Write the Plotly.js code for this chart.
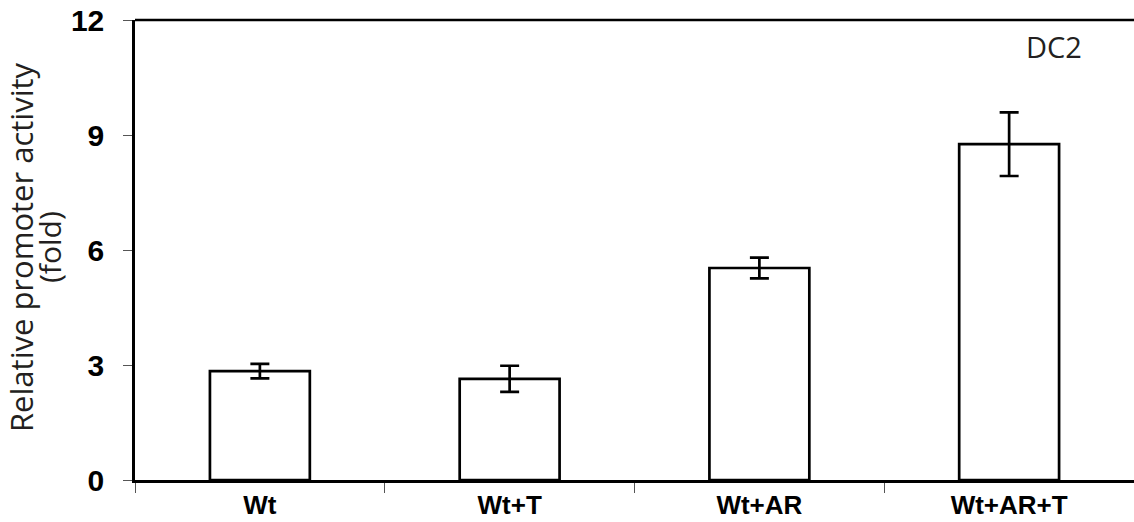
<!DOCTYPE html>
<html>
<head>
<meta charset="utf-8">
<script src="https://cdn.plot.ly/plotly-3.0.1.min.js"></script>
<style>html,body{margin:0;padding:0;background:#fff;}#chart{width:1134px;height:522px;}</style>
</head>
<body>
<div id="chart"></div>
<script>
const categories = ["Wt", "Wt+T", "Wt+AR", "Wt+AR+T"];
const activity = [2.84, 2.64, 5.53, 8.76];
const errors = [0.19, 0.34, 0.27, 0.83];
const yTicks = [0, 3, 6, 9, 12];
const panelLabel = "DC2";
const yTitleLine1 = "Relative promoter activity";
const yTitleLine2 = "(fold)";

const trace = {
  type: "bar",
  x: categories,
  y: activity,
  width: 0.4,
  marker: {color: "#ffffff", line: {color: "#000000", width: 2.7}},
  error_y: {type: "data", array: errors, visible: true, color: "#000000", thickness: 2.7, width: 9.5},
  hoverinfo: "none"
};

const layout = {
  width: 1134,
  height: 522,
  margin: {l: 135, r: 0, t: 20, b: 42, pad: 0},
  paper_bgcolor: "#ffffff",
  plot_bgcolor: "#ffffff",
  showlegend: false,
  bargap: 0.6,
  xaxis: {
    type: "category",
    range: [-0.5, 3.5],
    showline: true, linecolor: "#000000", linewidth: 2.7,
    showgrid: false, zeroline: false,
    ticks: "outside", tickson: "boundaries", ticklen: 10, tickwidth: 1, tickcolor: "#555555",
    tickfont: {family: "Liberation Sans, Arial, sans-serif", size: 26, color: "#000000", weight: "bold"},
    ticklabelstandoff: 0,
    fixedrange: true
  },
  yaxis: {
    range: [0, 12],
    tickvals: yTicks,
    ticktext: yTicks.map(String),
    showline: true, linecolor: "#000000", linewidth: 2.7,
    showgrid: false, zeroline: false,
    ticks: "outside", ticklen: 9, tickwidth: 1, tickcolor: "#555555",
    tickfont: {family: "Liberation Sans, Arial, sans-serif", size: 30, color: "#000000", weight: "bold"},
    ticklabelstandoff: 13,
    fixedrange: true
  },
  shapes: [
    {type: "line", xref: "paper", yref: "paper", x0: 0, x1: 1, y0: 1, y1: 1,
     line: {color: "#000000", width: 2.7}}
  ],
  annotations: [
    {text: panelLabel, xref: "paper", yref: "paper", x: 0.92, y: 0.943,
     xanchor: "center", yanchor: "middle", showarrow: false,
     font: {family: "Open Sans, sans-serif", size: 29, color: "#231f20"}},
    {text: yTitleLine1, xref: "paper", yref: "paper", x: 0, y: 0.5065, xshift: -114,
     xanchor: "center", yanchor: "middle", textangle: -90, showarrow: false,
     font: {family: "Open Sans, sans-serif", size: 31, color: "#231f20"}},
    {text: yTitleLine2, xref: "paper", yref: "paper", x: 0, y: 0.5065, xshift: -86,
     xanchor: "center", yanchor: "middle", textangle: -90, showarrow: false,
     font: {family: "Open Sans, sans-serif", size: 30, color: "#231f20"}}
  ]
};

Plotly.newPlot("chart", [trace], layout, {staticPlot: true, displayModeBar: false});
</script>
</body>
</html>
